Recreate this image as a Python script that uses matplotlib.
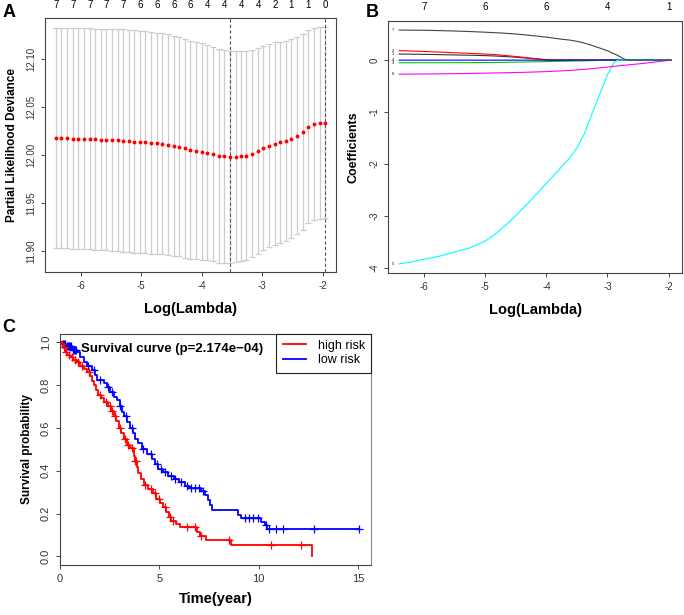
import numpy as np
import matplotlib
matplotlib.use("Agg")
import matplotlib.pyplot as plt

plt.rcParams["font.family"] = ["Liberation Sans", "DejaVu Sans"]
plt.rcParams["axes.unicode_minus"] = False

# ---- A: cross-validated partial likelihood deviance ----
log_lambda = [-6.41, -6.32, -6.23, -6.13, -6.04, -5.95, -5.85, -5.76, -5.67, -5.58,
              -5.48, -5.39, -5.30, -5.20, -5.11, -5.02, -4.93, -4.83, -4.74, -4.65,
              -4.56, -4.46, -4.37, -4.28, -4.19, -4.09, -4.00, -3.91, -3.81, -3.72,
              -3.63, -3.54, -3.44, -3.35, -3.26, -3.17, -3.07, -2.98, -2.89, -2.79,
              -2.70, -2.61, -2.52, -2.42, -2.33, -2.24, -2.15, -2.05, -1.96]
cv_mean = [12.0175, 12.0175, 12.0175, 12.0172, 12.0172, 12.0168, 12.0168, 12.0165, 12.0162, 12.0162,
           12.0158, 12.0155, 12.0151, 12.0144, 12.0141, 12.0137, 12.0134, 12.0127, 12.0123, 12.0116,
           12.0109, 12.0099, 12.0085, 12.0071, 12.0057, 12.0047, 12.0036, 12.0026, 12.0012, 11.9993,
           11.9988, 11.9984, 11.9984, 11.9988, 11.9995, 12.0015, 12.0043, 12.0075, 12.0099, 12.0120,
           12.0134, 12.0148, 12.0172, 12.0203, 12.0242, 12.0297, 12.0325, 12.0335, 12.0339]
cv_sd = [0.1148, 0.1148, 0.1148, 0.1150, 0.1150, 0.1153, 0.1153, 0.1155, 0.1157, 0.1157,
         0.1158, 0.1159, 0.1160, 0.1160, 0.1160, 0.1159, 0.1158, 0.1157, 0.1155, 0.1153,
         0.1150, 0.1147, 0.1143, 0.1140, 0.1137, 0.1133, 0.1130, 0.1126, 0.1120, 0.1115,
         0.1110, 0.1105, 0.1100, 0.1094, 0.1089, 0.1083, 0.1075, 0.1068, 0.1060, 0.1055,
         0.1048, 0.1042, 0.1035, 0.1027, 0.1020, 0.1010, 0.1003, 0.0997, 0.0993]
nzero_top = [7, 7, 7, 7, 7, 6, 6, 6, 6, 4, 4, 4, 4, 2, 1, 1, 0]
lambda_min = -3.54
lambda_1se = -1.96

# ---- B: coefficient paths ----
path_x = [-6.41, -6.25, -6.0, -5.75, -5.5, -5.25, -5.0, -4.875, -4.75, -4.625,
          -4.5, -4.375, -4.25, -4.125, -4.0, -3.95, -3.875, -3.75, -3.625, -3.5,
          -3.375, -3.25, -3.125, -3.0, -2.9, -2.85, -2.8, -2.75, -2.69, -2.5,
          -2.25, -1.96]
coef_1 = [0.115, 0.113, 0.11, 0.104, 0.098, 0.092, 0.085, 0.079, 0.072, 0.064,
          0.055, 0.043, 0.03, 0.017, 0.004, 0, 0, 0, 0, 0,
          0, 0, 0, 0, 0, 0, 0, 0, 0, 0, 0, 0]
coef_2 = [0.18, 0.175, 0.165, 0.153, 0.14, 0.128, 0.115, 0.106, 0.095, 0.082,
          0.068, 0.052, 0.036, 0.02, 0.006, 0, 0, 0, 0, 0,
          0, 0, 0, 0, 0, 0, 0, 0, 0, 0, 0, 0]
coef_3 = [-0.052, -0.052, -0.051, -0.051, -0.05, -0.049, -0.048, -0.047, -0.045, -0.043,
          -0.04, -0.038, -0.035, -0.033, -0.03, -0.029, -0.027, -0.024, -0.021, -0.018,
          -0.015, -0.011, -0.008, -0.005, -0.002, 0, 0, 0, 0, 0, 0, 0]
coef_4 = [-0.002, -0.002, -0.002, -0.002, -0.002, -0.002, -0.002, -0.002, -0.002, -0.002,
          -0.002, -0.002, -0.002, -0.002, -0.002, -0.002, -0.002, -0.002, -0.002, -0.002,
          -0.002, -0.001, 0, 0, 0, 0, 0, 0, 0, 0, 0, 0]
coef_5 = [-3.92, -3.89, -3.83, -3.77, -3.69, -3.61, -3.48, -3.38, -3.26, -3.13,
          -2.99, -2.84, -2.69, -2.53, -2.37, -2.31, -2.21, -2.05, -1.89, -1.69,
          -1.41, -1.02, -0.65, -0.28, -0.06, -0.01, 0, 0, 0, 0, 0, 0]
coef_6 = [-0.27, -0.27, -0.268, -0.265, -0.262, -0.258, -0.252, -0.249, -0.246, -0.243,
          -0.24, -0.236, -0.232, -0.227, -0.222, -0.22, -0.215, -0.208, -0.2, -0.19,
          -0.178, -0.165, -0.15, -0.135, -0.122, -0.116, -0.11, -0.104, -0.097, -0.075,
          -0.042, 0]
coef_7 = [0.576, 0.575, 0.572, 0.566, 0.558, 0.548, 0.535, 0.528, 0.52, 0.511,
          0.50, 0.487, 0.472, 0.457, 0.44, 0.432, 0.42, 0.40, 0.385, 0.36,
          0.325, 0.28, 0.23, 0.178, 0.125, 0.098, 0.068, 0.036, 0, 0, 0, 0]
df_top = [7, 6, 6, 4, 1]
df_pos = [-6, -5, -4, -3, -2]

# ---- C: Kaplan-Meier ----
high_t = [0.05, 0.15, 0.25, 0.35, 0.5, 0.67, 0.85, 1.0, 1.2, 1.34, 1.5, 1.6, 1.7, 1.8, 1.9,
          2.05, 2.2, 2.4, 2.55, 2.7, 2.8, 2.95, 3.05, 3.2, 3.35, 3.5, 3.72, 3.78, 3.88, 3.95,
          4.1, 4.25, 4.45, 4.7, 4.85, 5.05, 5.2, 5.35, 5.5, 5.6, 5.85, 6.05, 6.9, 7.05, 7.35,
          8.6, 12.67]
high_s = [0.99, 0.975, 0.955, 0.94, 0.93, 0.918, 0.905, 0.89, 0.875, 0.86, 0.84, 0.82, 0.80, 0.775, 0.755,
          0.74, 0.72, 0.70, 0.68, 0.655, 0.63, 0.60, 0.575, 0.55, 0.52, 0.505, 0.47, 0.445, 0.415, 0.39,
          0.36, 0.335, 0.315, 0.295, 0.27, 0.25, 0.23, 0.205, 0.185, 0.165, 0.15, 0.137, 0.115, 0.095, 0.075,
          0.055, 0.0]
high_cens = [0.1, 0.2, 0.3, 0.45, 0.6, 0.75, 0.9, 1.1, 1.45, 2.0, 2.3, 2.5, 2.6, 2.75, 3.0,
             3.25, 3.4, 3.6, 3.8, 3.85, 4.3, 4.6, 4.8, 5.0, 5.3, 5.55, 5.7, 6.4, 6.8, 7.1,
             8.5, 10.6, 12.15]
low_t = [0.1, 0.3, 0.6, 0.84, 1.0, 1.2, 1.34, 1.6, 1.75, 1.85, 2.2, 2.35, 2.5, 2.7, 2.85,
         3.0, 3.1, 3.2, 3.35, 3.5, 3.65, 3.8, 3.95, 4.15, 4.4, 4.65, 4.8, 4.95, 5.2, 5.45,
         5.75, 6.0, 6.3, 6.5, 7.1, 7.3, 7.45, 7.55, 7.65, 8.95, 9.1, 10.1, 10.3, 10.42]
low_s = [0.99, 0.98, 0.965, 0.955, 0.93, 0.905, 0.89, 0.87, 0.845, 0.825, 0.81, 0.79, 0.765, 0.745, 0.73,
         0.70, 0.675, 0.655, 0.625, 0.60, 0.575, 0.55, 0.53, 0.50, 0.48, 0.455, 0.43, 0.41, 0.395, 0.375,
         0.36, 0.345, 0.33, 0.32, 0.305, 0.285, 0.265, 0.24, 0.215, 0.195, 0.18, 0.16, 0.145, 0.13]
low_cens = [0.15, 0.2, 0.25, 0.35, 0.4, 0.45, 0.5, 0.55, 0.65, 0.7, 0.75, 0.8, 1.4, 1.7, 2.0,
            2.4, 2.6, 3.0, 3.3, 3.6, 4.2, 4.6, 4.9, 5.1, 5.3, 5.6, 5.8, 6.1, 6.4, 6.6,
            6.8, 7.0, 7.2, 9.3, 9.5, 9.7, 9.95, 10.35, 10.52, 10.85, 11.2, 12.78, 15.05]

EDGE = "#444444"


def style_axes(ax, fs=7):
    for s in ax.spines.values():
        s.set_color(EDGE)
        s.set_linewidth(0.8)
    ax.tick_params(direction="out", length=3, width=0.7, color=EDGE,
                   labelsize=fs, labelcolor="#333333")
    ax.tick_params(axis="y", labelrotation=90)
    for lab in ax.get_yticklabels():
        lab.set_va("center")


fig = plt.figure(figsize=(6.84, 6.15), dpi=100)

# Panel A
axA = fig.add_axes([0.0658, 0.5577, 0.4254, 0.4130])
m = np.array(cv_mean)
sd = np.array(cv_sd)
axA.errorbar(log_lambda, m, yerr=sd, fmt="none", ecolor="#cccccc",
             elinewidth=0.9, capsize=2, capthick=0.9)
axA.plot(log_lambda, m, "o", color="red", markersize=2.8, markeredgewidth=0)
axA.axvline(lambda_min, color="#555555", lw=0.8, ls=(0, (3, 2)))
axA.axvline(lambda_1se, color="#555555", lw=0.8, ls=(0, (3, 2)))
axA.margins(x=0.04, y=0.04)
axA.set_xticks([-6, -5, -4, -3, -2])
axA.set_yticks([11.90, 11.95, 12.00, 12.05, 12.10])
axA.set_yticklabels(["11.90", "11.95", "12.00", "12.05", "12.10"])
style_axes(axA)
topA = axA.secondary_xaxis("top")
topA.set_xticks(log_lambda[::3], [str(v) for v in nzero_top])
topA.tick_params(length=0, labelsize=7, pad=6)
topA.spines["top"].set_visible(False)
axA.set_xlabel("Log(Lambda)", fontsize=10.5, fontweight="bold", labelpad=8)
axA.set_ylabel("Partial Likelihood Deviance", fontsize=8.5, fontweight="bold", labelpad=6)

# Panel B
axB = fig.add_axes([0.5677, 0.5556, 0.4292, 0.4107])
paths = [coef_1, coef_2, coef_3, coef_4, coef_5, coef_6, coef_7]
colors = ["#333333", "red", "#00cd00", "blue", "cyan", "magenta", "#444444"]
for i, (c, col) in enumerate(zip(paths, colors)):
    axB.plot(path_x, c, color=col, lw=0.8)
    axB.text(path_x[0] - 0.1, c[0], str(i + 1), fontsize=3, ha="center", va="center")
axB.margins(x=0.04, y=0.04)
axB.set_xticks([-6, -5, -4, -3, -2])
axB.set_yticks([-4, -3, -2, -1, 0])
style_axes(axB)
topB = axB.secondary_xaxis("top")
topB.set_xticks(df_pos, [str(v) for v in df_top])
topB.tick_params(length=0, labelsize=7, pad=6)
topB.spines["top"].set_visible(False)
axB.set_xlabel("Log(Lambda)", fontsize=10.5, fontweight="bold", labelpad=8)
axB.set_ylabel("Coefficients", fontsize=9, fontweight="bold", labelpad=7)

# Panel C
axC = fig.add_axes([0.0877, 0.0813, 0.4547, 0.3764])


def km_steps(t, s, last=None):
    x = [0] + list(t)
    y = [1] + list(s)
    if last is not None:
        x.append(last)
        y.append(y[-1])
    return x, y


def cens_y(t, s, c):
    idx = np.searchsorted(t, c, side="right")
    return np.r_[1.0, s][idx]


hx, hy = km_steps(high_t, high_s)
lx, ly = km_steps(low_t, low_s, last=low_cens[-1])
low_line, = axC.step(lx, ly, where="post", color="blue", lw=1.3)
axC.plot(low_cens, cens_y(low_t, low_s, low_cens), "+", color="blue", ms=6, mew=0.9)
high_line, = axC.step(hx, hy, where="post", color="red", lw=1.3)
axC.plot(high_cens, cens_y(high_t, high_s, high_cens), "+", color="red", ms=6, mew=0.9)
axC.set_xlim(0, 15.05 * 1.04)
axC.set_ylim(-0.04, 1.04)
axC.set_xticks([0, 5, 10, 15])
axC.set_yticks([0.0, 0.2, 0.4, 0.6, 0.8, 1.0])
axC.set_yticklabels(["0.0", "0.2", "0.4", "0.6", "0.8", "1.0"])
style_axes(axC, fs=8)
axC.spines["right"].set_color("#888888")
axC.text(0.068, 0.958, "Survival curve (p=2.174e\u221204)", transform=axC.transAxes,
         fontsize=9.5, fontweight="bold", va="top", ha="left")
leg = axC.legend([high_line, low_line], ["high risk", "low risk"], loc="upper right",
                 borderaxespad=0, fancybox=False, edgecolor="#222222", fontsize=9,
                 handlelength=1.9, handletextpad=0.9, borderpad=0.5,
                 framealpha=1, labelspacing=0.2)
leg.get_frame().set_linewidth(0.8)
axC.set_xlabel("Time(year)", fontsize=10.5, fontweight="bold", labelpad=6)
axC.set_ylabel("Survival probability", fontsize=8.5, fontweight="bold", labelpad=6)

# panel letters
fig.text(0.004, 0.98, "A", fontsize=13, fontweight="bold", va="center")
fig.text(0.535, 0.98, "B", fontsize=13, fontweight="bold", va="center")
fig.text(0.004, 0.468, "C", fontsize=13, fontweight="bold", va="center")

fig.savefig("out.png", dpi=100)
